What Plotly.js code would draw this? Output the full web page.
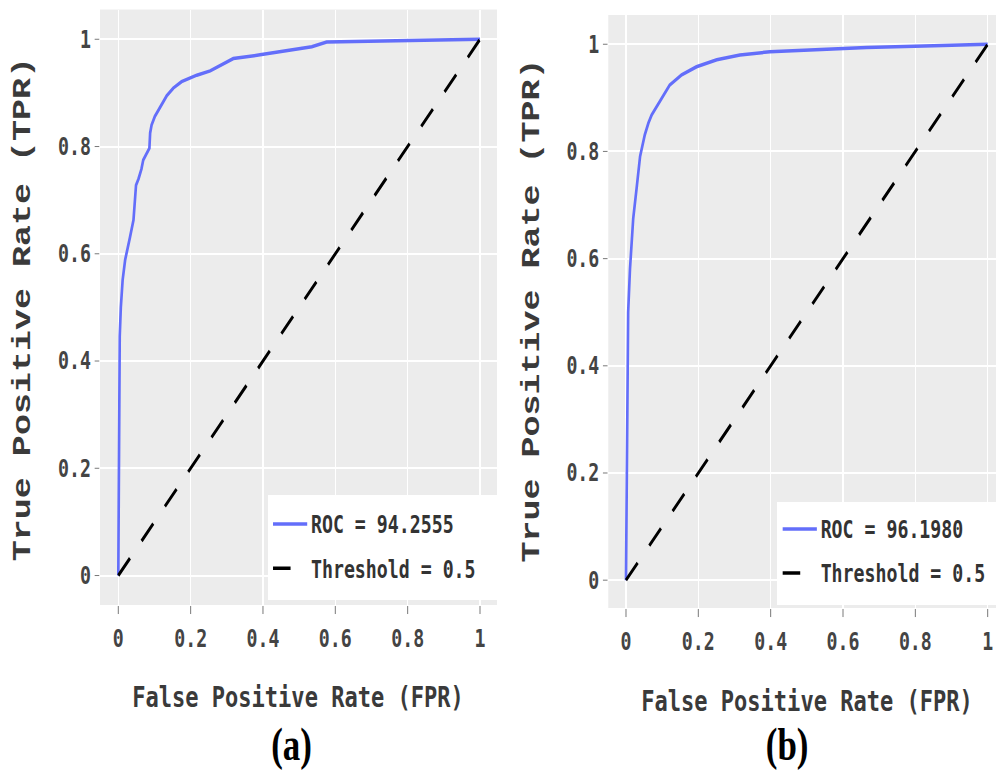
<!DOCTYPE html>
<html>
<head>
<meta charset="utf-8">
<script src="https://cdn.plot.ly/plotly-3.0.1.min.js"></script>
<style>
html,body{margin:0;padding:0;overflow:hidden;background:#fff;}
#plot{width:1311px;height:773px;transform:scaleX(0.75973);transform-origin:0 0;}
</style>
</head>
<body>
<div id="plot"></div>
<script>
// ---- data ----
var fprA = [0, 0.001, 0.004, 0.007, 0.012, 0.019, 0.023, 0.032, 0.042, 0.046, 0.049, 0.056, 0.064, 0.069, 0.078, 0.086, 0.088, 0.092, 0.101, 0.115, 0.125, 0.134, 0.152, 0.175, 0.217, 0.254, 0.276, 0.318, 0.392, 0.475, 0.535, 0.576, 0.779, 1];
var tprA = [0, 0.2, 0.446, 0.5, 0.551, 0.589, 0.6, 0.63, 0.663, 0.70, 0.728, 0.74, 0.758, 0.775, 0.788, 0.797, 0.825, 0.84, 0.856, 0.872, 0.884, 0.895, 0.909, 0.921, 0.933, 0.941, 0.949, 0.964, 0.971, 0.98, 0.986, 0.995, 0.998, 1];
var fprB = [0, 0.002, 0.004, 0.006, 0.011, 0.016, 0.02, 0.03, 0.039, 0.052, 0.062, 0.071, 0.085, 0.103, 0.121, 0.154, 0.195, 0.251, 0.315, 0.398, 0.527, 0.665, 0.85, 1];
var tprB = [0, 0.2, 0.375, 0.5, 0.58, 0.63, 0.675, 0.735, 0.791, 0.831, 0.853, 0.868, 0.884, 0.906, 0.924, 0.943, 0.958, 0.971, 0.98, 0.986, 0.99, 0.994, 0.997, 1];
var thresholdX = [0, 1];
var thresholdY = [0, 1];
var rocLabels = ["ROC = 94.2555", "ROC = 96.1980"];
var thresholdLabel = "Threshold = 0.5";
var panelLabels = ["(a)", "(b)"];
var xTitle = "False Positive Rate (FPR)";
var yTitle = "True Positive Rate (TPR)";
var tickVals = [0, 0.2, 0.4, 0.6, 0.8, 1];
var tickText = ["0", "0.2", "0.4", "0.6", "0.8", "1"];

// ---- styles ----
var MONO = "DejaVu Sans Mono";
var TXT = "#3a3a3a";
var tickFont = {family: MONO, size: 24, color: "#444", weight: "bold"};
var legFont = {family: MONO, size: 24, color: "#333", weight: "bold"};

function xax(domain, range, anchor) {
  return {domain: domain, range: range, anchor: anchor, tickvals: tickVals, ticktext: tickText,
    ticks: "outside", ticklen: 8, tickwidth: 1, tickcolor: "#666", showgrid: true,
    gridcolor: "#ffffff", gridwidth: 2, zeroline: false, showline: false,
    ticklabelstandoff: 4, tickfont: tickFont, fixedrange: true};
}
function yax(domain, range, anchor) {
  return {domain: domain, range: range, anchor: anchor, tickvals: tickVals, ticktext: tickText,
    ticks: "outside", ticklen: 6, tickwidth: 1, tickcolor: "#666", showgrid: true,
    gridcolor: "#ffffff", gridwidth: 2, zeroline: false, showline: false,
    tickfont: tickFont, fixedrange: true};
}

var DASH = "23.1px,23.1px";
var traces = [
  {x: fprA, y: tprA, type: "scatter", mode: "lines", name: rocLabels[0],
   line: {color: "#636efa", width: 3.5}, xaxis: "x", yaxis: "y", legend: "legend", legendgroup: "a1"},
  {x: thresholdX, y: thresholdY, type: "scatter", mode: "lines", name: thresholdLabel,
   line: {color: "#000000", width: 3.5, dash: DASH}, xaxis: "x", yaxis: "y", legend: "legend", legendgroup: "a2"},
  {x: fprB, y: tprB, type: "scatter", mode: "lines", name: rocLabels[1],
   line: {color: "#636efa", width: 3.5}, xaxis: "x2", yaxis: "y2", legend: "legend2", legendgroup: "b1"},
  {x: thresholdX, y: thresholdY, type: "scatter", mode: "lines", name: thresholdLabel,
   line: {color: "#000000", width: 3.5, dash: DASH}, xaxis: "x2", yaxis: "y2", legend: "legend2", legendgroup: "b2"}
];

var legendBase = {bgcolor: "rgba(0,0,0,0)", borderwidth: 0, font: legFont, traceorder: "grouped",
  tracegroupgap: 10, itemwidth: 45, xanchor: "left", yanchor: "middle"};

var layout = {
  width: 1311, height: 773,
  margin: {l: 0, r: 0, t: 0, b: 0, autoexpand: false},
  paper_bgcolor: "#ffffff",
  plot_bgcolor: "rgb(236,236,236)",
  showlegend: true,
  xaxis: xax([0.1004, 0.4990], [-0.0506, 1.047], "y"),
  yaxis: yax([0.2173, 0.9877], [-0.055, 1.0555], "x"),
  xaxis2: xax([0.6107, 1.0], [-0.049, 1.023], "y2"),
  yaxis2: yax([0.2134, 0.9806], [-0.052, 1.0546], "x2"),
  legend: Object.assign({}, legendBase, {x: 0.2703, y: 0.2930}),
  legend2: Object.assign({}, legendBase, {x: 0.7820, y: 0.2868}),
  shapes: [
    {type: "rect", xref: "paper", yref: "paper", x0: 0.2691, x1: 0.4990, y0: 0.2238, y1: 0.3596,
     fillcolor: "#ffffff", line: {width: 0}, layer: "above"},
    {type: "rect", xref: "paper", yref: "paper", x0: 0.7801, x1: 1.05, y0: 0.2173, y1: 0.3506,
     fillcolor: "#ffffff", line: {width: 0}, layer: "above"}
  ],
  annotations: [
    {text: yTitle, xref: "paper", yref: "paper", x: 0.0236, y: 0.600, xanchor: "center", yanchor: "middle",
     textangle: -90, showarrow: false, font: {family: "Liberation Mono", size: 35, color: TXT, weight: "bold"}},
    {text: yTitle, xref: "paper", yref: "paper", x: 0.5338, y: 0.598, xanchor: "center", yanchor: "middle",
     textangle: -90, showarrow: false, font: {family: "Liberation Mono", size: 35, color: TXT, weight: "bold"}},
    {text: xTitle, xref: "paper", yref: "paper", x: 0.2992, y: 0.0977, xanchor: "center", yanchor: "middle",
     showarrow: false, font: {family: MONO, size: 29, color: TXT, weight: "bold"}},
    {text: xTitle, xref: "paper", yref: "paper", x: 0.8107, y: 0.0931, xanchor: "center", yanchor: "middle",
     showarrow: false, font: {family: MONO, size: 29, color: TXT, weight: "bold"}},
    {text: panelLabels[0], xref: "paper", yref: "paper", x: 0.2932, y: 0.001, xanchor: "center", yanchor: "bottom",
     showarrow: false, font: {family: "Liberation Serif", size: 46, color: "#000000", weight: "bold"}},
    {text: panelLabels[1], xref: "paper", yref: "paper", x: 0.7899, y: 0.001, xanchor: "center", yanchor: "bottom",
     showarrow: false, font: {family: "Liberation Serif", size: 46, color: "#000000", weight: "bold"}}
  ]
};

Plotly.newPlot("plot", traces, layout, {displayModeBar: false, staticPlot: true});
</script>
</body>
</html>
